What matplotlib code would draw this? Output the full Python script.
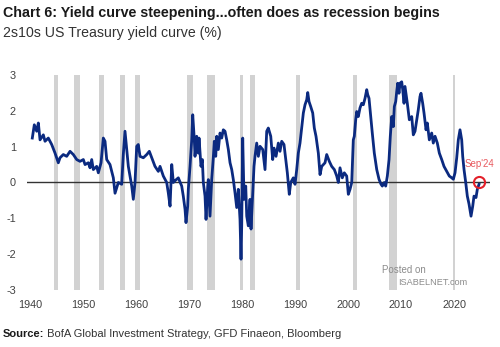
import matplotlib
matplotlib.use("Agg")
import matplotlib.pyplot as plt

# 2s10s curve (decimal year, %)
years = [
    1940.43, 1940.81, 1941.26, 1941.57, 1941.89, 1942.51, 1942.83, 1943.45, 1944.09, 1944.72,
    1945.34, 1945.66, 1946.28, 1946.92, 1947.55, 1948.17, 1948.81, 1949.43, 1950.06, 1950.38,
    1951.00, 1951.32, 1951.64, 1951.94, 1952.58, 1952.89, 1953.40, 1953.83, 1954.15, 1954.47,
    1955.09, 1955.42, 1955.72, 1956.04, 1956.36, 1956.66, 1957.30, 1957.60, 1957.92, 1958.25,
    1958.55, 1958.87, 1959.19, 1959.49, 1959.81, 1960.13, 1960.43, 1960.75, 1961.38, 1962.02,
    1962.51, 1962.96, 1963.58, 1964.21, 1964.53, 1965.15, 1965.79, 1966.09, 1966.42, 1966.74,
    1967.04, 1967.36, 1967.98, 1968.62, 1968.92, 1969.25, 1969.43, 1969.75, 1969.87, 1970.19,
    1970.51, 1970.70, 1971.00, 1971.13, 1971.45, 1971.75, 1971.89, 1972.26, 1972.51, 1972.70,
    1973.02, 1973.21, 1973.53, 1973.64, 1973.96, 1974.28, 1974.58, 1974.77, 1975.04, 1975.23,
    1975.53, 1975.85, 1976.17, 1976.47, 1976.79, 1977.11, 1977.42, 1977.74, 1978.06, 1978.36,
    1978.68, 1979.00, 1979.30, 1979.62, 1979.81, 1979.94, 1980.13, 1980.38, 1980.70, 1980.89,
    1981.19, 1981.51, 1981.70, 1982.02, 1982.26, 1982.45, 1982.77, 1983.08, 1983.40, 1983.91,
    1984.34, 1984.66, 1984.96, 1985.42, 1985.79, 1986.04, 1986.42, 1986.85, 1987.17, 1987.49,
    1987.92, 1988.25, 1988.55, 1988.92, 1989.19, 1989.68, 1990.00, 1990.32, 1990.62, 1990.94,
    1991.26, 1991.57, 1991.89, 1992.21, 1992.40, 1992.64, 1992.96, 1993.34, 1993.64, 1993.96,
    1994.40, 1994.72, 1995.04, 1995.66, 1995.98, 1996.47, 1996.92, 1997.42, 1997.87, 1998.17,
    1998.49, 1998.92, 1999.30, 1999.75, 2000.06, 2000.38, 2000.70, 2001.00, 2001.19, 2001.45,
    2001.64, 2001.94, 2002.26, 2002.58, 2002.89, 2003.21, 2003.53, 2003.72, 2003.96, 2004.28,
    2004.58, 2004.96, 2005.42, 2005.85, 2006.23, 2006.47, 2006.85, 2007.11, 2007.42, 2007.74,
    2007.98, 2008.25, 2008.55, 2008.74, 2009.00, 2009.19, 2009.38, 2009.62, 2009.81, 2010.13,
    2010.32, 2010.57, 2010.75, 2011.19, 2011.57, 2012.02, 2012.32, 2012.64, 2012.96, 2013.26,
    2013.58, 2013.77, 2014.09, 2014.34, 2014.72, 2014.96, 2015.34, 2015.79, 2016.09, 2016.42,
    2016.85, 2017.23, 2017.68, 2018.11, 2018.62, 2019.11, 2019.57, 2019.87, 2020.19, 2020.51,
    2020.81, 2021.13, 2021.45, 2021.64, 2021.89, 2022.21, 2022.51, 2022.83, 2023.21, 2023.53,
    2023.77, 2024.15, 2024.40, 2024.72,
]
spread = [
    1.24, 1.61, 1.43, 1.66, 1.19, 1.33, 1.15, 1.24, 1.06, 0.82,
    0.55, 0.69, 0.78, 0.73, 0.87, 0.78, 0.64, 0.59, 0.64, 0.50,
    0.55, 0.41, 0.64, 0.36, 0.45, 0.27, 0.55, 1.24, 1.15, 0.64,
    0.50, 0.31, 0.13, -0.30, -0.15, 0.00, -0.05, 0.78, 1.43, 0.92,
    0.45, 0.18, -0.10, -0.47, 0.00, 1.01, 1.06, 0.73, 0.69, 0.78,
    0.87, 0.69, 0.45, 0.31, 0.45, 0.18, 0.00, -0.29, -0.66, 0.50,
    0.00, 0.05, 0.13, -0.10, -0.38, -0.75, -1.12, -0.66, -0.19, 0.45,
    1.19, 1.89, 1.19, 0.73, 1.29, 0.82, 1.24, 0.45, 0.64, 0.00,
    -0.38, -1.03, -0.10, 0.08, -0.94, 0.08, 0.69, 1.15, 0.73, 1.29,
    0.92, 1.38, 1.24, 1.47, 1.43, 1.19, 0.92, 0.55, 0.36, 0.08,
    -0.29, -0.70, -0.19, -1.03, -2.14, -1.21, 1.24, -0.47, -0.10, -0.94,
    -1.21, -0.47, -1.30, -0.29, 0.45, 0.73, 1.10, 0.73, 1.01, 0.92,
    0.36, 1.43, 1.52, 1.29, 0.64, 0.96, 0.73, 1.10, 0.87, 1.15,
    1.06, 0.64, 0.27, -0.33, 0.00, 0.13, -0.05, 0.36, 0.82, 1.10,
    1.52, 1.94, 2.17, 2.31, 2.51, 2.26, 2.12, 1.94, 1.52, 1.29,
    0.82, 0.22, 0.45, 0.55, 0.78, 0.59, 0.45, 0.36, 0.18, 0.00,
    0.41, 0.13, 0.27, 0.18, -0.33, -0.19, 0.00, 1.19, 1.29, 1.75,
    1.98, 1.84, 2.08, 2.21, 2.17, 2.35, 2.59, 2.45, 2.35, 1.84,
    1.38, 0.82, 0.36, 0.09, -0.05, -0.10, 0.00, -0.10, 0.18, 0.64,
    1.29, 1.84, 1.56, 2.12, 2.26, 2.54, 2.77, 2.49, 2.77, 2.81,
    2.59, 2.21, 2.68, 2.21, 1.75, 1.84, 1.33, 1.43, 1.75, 2.03,
    2.40, 2.49, 2.21, 1.94, 1.47, 1.66, 1.19, 1.38, 1.10, 1.29,
    1.10, 0.82, 0.64, 0.45, 0.31, 0.18, 0.13, 0.09, 0.27, 0.69,
    1.19, 1.47, 1.19, 0.73, 0.36, 0.00, -0.38, -0.60, -0.94, -0.66,
    -0.38, -0.42, -0.19, -0.05,
]

# recession shading (start, end)
rec_start = [1944.53, 1948.30, 1953.02, 1956.98, 1959.81, 1969.62, 1973.40,
             1979.62, 1981.51, 1990.19, 2000.94, 2007.74, 2019.90]
rec_end = [1945.28, 1949.43, 1953.96, 1957.92, 1960.75, 1970.75, 1974.91,
           1980.19, 1982.45, 1990.94, 2001.70, 2009.25, 2020.10]

xticks = [1940, 1950, 1960, 1970, 1980, 1990, 2000, 2010, 2020]
yticks = [-3, -2, -1, 0, 1, 2, 3]

plt.rcParams['font.family'] = ['Liberation Sans', 'DejaVu Sans']
plt.rcParams['axes.unicode_minus'] = False

fig = plt.figure(figsize=(5, 3.47), dpi=100)
ax = fig.add_axes([0.054, 0.1643, 0.926, 0.6196])

for s, e in zip(rec_start, rec_end):
    ax.axvspan(s, e, color='#d2d2d2', lw=0, zorder=0)

ax.axhline(0, color='#333333', lw=1.0, zorder=1)
ax.plot(years, spread, color='#0b2a80', lw=2.0, zorder=2, solid_joinstyle='round')

# Sep'24 marker
ax.plot([years[-1]], [spread[-1] + 0.05], 'o', ms=8, mfc='none', mec='#e3202a', mew=1.5, zorder=3)
ax.text(years[-1], 0.52, "Sep'24", color='#e85a5f', fontsize=7, ha='center', va='center')

ax.set_xlim(1939.43, 2026.79)
ax.set_ylim(-3, 3)
ax.set_xticks(xticks)
ax.set_yticks(yticks)
ax.tick_params(length=0, labelsize=7.8, labelcolor='#404040')
ax.tick_params(axis='x', pad=7)
ax.tick_params(axis='y', pad=8)
for sp in ax.spines.values():
    sp.set_visible(False)

# watermark
ax.text(0.767, 0.095, 'Posted on', transform=ax.transAxes, fontsize=7,
        color='#8c8c8c', ha='left', va='center')
ax.text(0.801, 0.037, 'ISABELNET.com', transform=ax.transAxes, fontsize=6.6,
        color='#8c8c8c', ha='left', va='center')

fig.text(0.006, 0.962, 'Chart 6: Yield curve steepening...often does as recession begins',
         fontsize=10.3, fontweight='bold', color='#1a1a1a', va='center')
fig.text(0.006, 0.905, '2s10s US Treasury yield curve (%)',
         fontsize=10.2, color='#333333', va='center')
src = fig.text(0.006, 0.022, 'Source:', fontsize=8, fontweight='bold',
               color='#1a1a1a', va='bottom')
ax.annotate(' BofA Global Investment Strategy, GFD Finaeon, Bloomberg',
            xy=(1, 0), xycoords=src, fontsize=8, color='#333333',
            va='bottom', ha='left', annotation_clip=False)

fig.savefig('out.png', dpi=100)
